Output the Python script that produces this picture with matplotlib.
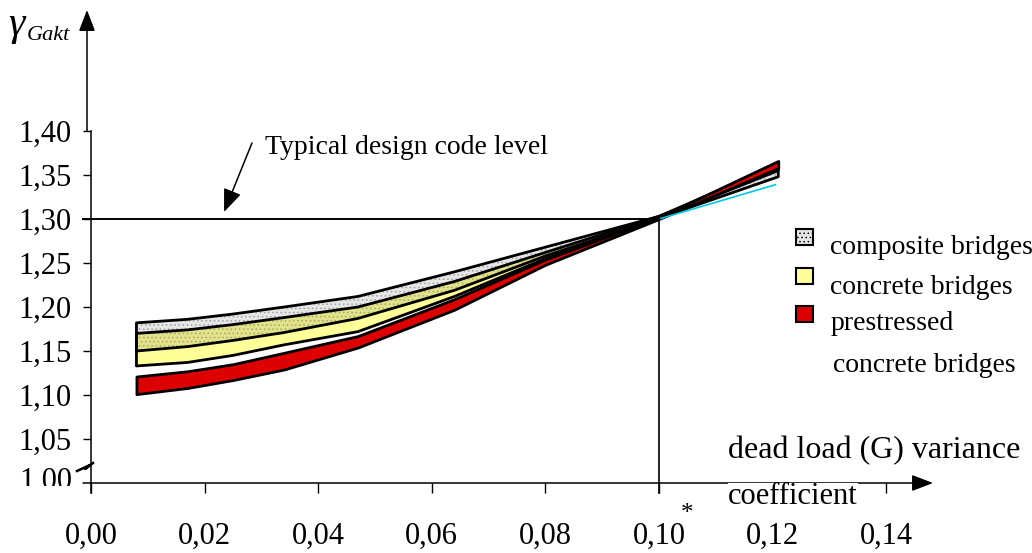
import matplotlib
matplotlib.use('Agg')
import matplotlib.pyplot as plt
import numpy as np
from matplotlib.patches import Rectangle
from matplotlib.transforms import Bbox

plt.rcParams['font.family'] = ['Liberation Serif', 'DejaVu Serif']
plt.rcParams['hatch.linewidth'] = 0.6

# ---------------- data ----------------
x_vals = [0.008, 0.017, 0.025, 0.034, 0.047, 0.064, 0.080, 0.100, 0.121]
composite_top = [1.182, 1.186, 1.192, 1.200, 1.212, 1.240, 1.268, 1.303, 1.357]
composite_bot = [1.150, 1.155, 1.162, 1.171, 1.187, 1.219, 1.258, 1.301, 1.348]
concrete_top = [1.170, 1.174, 1.180, 1.188, 1.200, 1.229, 1.262, 1.303, 1.362]
concrete_bot = [1.133, 1.137, 1.145, 1.157, 1.172, 1.212, 1.255, 1.301, 1.355]
prestressed_top = [1.121, 1.127, 1.135, 1.148, 1.167, 1.209, 1.254, 1.302, 1.366]
prestressed_bot = [1.101, 1.108, 1.117, 1.129, 1.154, 1.197, 1.248, 1.300, 1.358]
cyan_x = [0.100, 0.1205]
cyan_y = [1.300, 1.339]

x_ticks = [0.00, 0.02, 0.04, 0.06, 0.08, 0.10, 0.12, 0.14]
x_tick_labels = ['0,00', '0,02', '0,04', '0,06', '0,08', '0,10', '0,12', '0,14']
y_ticks = [1.05, 1.10, 1.15, 1.20, 1.25, 1.30, 1.35, 1.40]
y_tick_labels = ['1,05', '1,10', '1,15', '1,20', '1,25', '1,30', '1,35', '1,40']
legend_labels = ['composite bridges', 'concrete bridges', 'prestressed', 'concrete bridges']
design_level = 1.30
design_cov = 0.10

# ---------------- layout ----------------
W, H = 1032, 553
fig = plt.figure(figsize=(W / 100, H / 100), dpi=100)
X0, Y0 = 91, 483          # pixel position of the origin (0, 1.00)
SX, SY = 5680.0, 880.0    # pixels per data unit
ax = fig.add_axes([X0 / W, (H - Y0) / H, (W - X0) / W, Y0 / H])
ax.set_xlim(0, (W - X0) / SX)
ax.set_ylim(1.0, 1.0 + Y0 / SY)
for s in ax.spines.values():
    s.set_visible(False)


def dx(px):
    return (px - X0) / SX


def dy(py):
    return 1.0 + (Y0 - py) / SY


def fx(px):
    return px / W


def fy(py):
    return 1 - py / H


x = np.array(x_vals)
ctop, cbot = np.array(composite_top), np.array(composite_bot)
ktop, kbot = np.array(concrete_top), np.array(concrete_bot)
ptop, pbot = np.array(prestressed_top), np.array(prestressed_bot)

# bands
ax.fill_between(x, cbot, ctop, facecolor='#e6e6e6', edgecolor='#a0a0a0',
                hatch='....', linewidth=0, zorder=2)
ax.fill_between(x, kbot, ktop, facecolor='#ffff99', linewidth=0, zorder=3)
ov_lo = np.maximum(cbot, kbot)
ov_hi = np.minimum(ctop, ktop)
ax.fill_between(x, ov_lo, ov_hi, facecolor='#e2e28c', edgecolor='#a8a860',
                hatch='....', linewidth=0, zorder=4)
for lo, hi in [(cbot, ctop), (kbot, ktop)]:
    ax.fill_between(x, lo, hi, facecolor='none', edgecolor='black', linewidth=2.0, zorder=5)
ax.fill_between(x, pbot, ptop, facecolor='#dd0000', edgecolor='black', linewidth=2.0, zorder=6)
ax.plot(cyan_x, cyan_y, color='#00c8e8', lw=1.2, zorder=7)

# design level lines
ax.plot([dx(83), design_cov], [design_level, design_level], color='black', lw=1.4, zorder=8, clip_on=False)
ax.plot([design_cov, design_cov], [design_level, dy(493)], color='black', lw=1.2, zorder=8, clip_on=False)

# axes lines
ax.plot([0, 0], [dy(493), 1.40], color='black', lw=1.1, clip_on=False)
ax.annotate('', xy=(dx(87), dy(10)), xytext=(dx(87), 1.40),
            arrowprops=dict(arrowstyle='-|>,head_length=0.65,head_width=0.25', mutation_scale=20,
                            color='black', lw=1.1, shrinkA=0, shrinkB=0), annotation_clip=False)
ax.annotate('', xy=(dx(933), 1.0), xytext=(dx(83), 1.0),
            arrowprops=dict(arrowstyle='-|>,head_length=0.65,head_width=0.25', mutation_scale=20,
                            color='black', lw=1.1, shrinkA=0, shrinkB=0), annotation_clip=False)

# ticks
ax.set_xticks(x_ticks)
ax.set_xticklabels(x_tick_labels)
ax.set_yticks(y_ticks)
ax.set_yticklabels(y_tick_labels)
ax.tick_params(axis='x', direction='out', length=7, width=1, pad=21, labelsize=22)
ax.tick_params(axis='y', direction='out', length=5.8, width=1, pad=8, labelsize=22)

# clipped 1,00 label and break mark
t = ax.text(dx(72), dy(481), '1,00', ha='right', va='center', fontsize=22, clip_on=True)
t.set_clip_box(Bbox([[0, H - 486], [X0, H]]))
ax.plot([dx(77), dx(90), dx(85), dx(93)], [dy(471), dy(465), dy(469), dy(463)],
        color='black', lw=1.8, clip_on=False)

# asterisk
ax.text(dx(687), dy(514), '*', ha='center', va='center', fontsize=18)

# axis titles
fig.text(fx(8), fy(25), 'γ', fontsize=30, style='italic', ha='left', va='center')
fig.text(fx(27), fy(35), 'Gakt', fontsize=16, style='italic', ha='left', va='center')
ax.text(dx(728), dy(451), 'dead load (G) variance', fontsize=23, ha='left', va='center', zorder=10)
ax.text(dx(728), dy(497), 'coefficient', fontsize=22, ha='left', va='center', zorder=10,
        bbox=dict(facecolor='white', edgecolor='none', pad=0))

# annotation
ax.text(dx(265), dy(148), 'Typical design code level', fontsize=20, ha='left', va='center')
ax.annotate('', xy=(dx(224), dy(212)), xytext=(dx(252), dy(143)),
            arrowprops=dict(arrowstyle='-|>,head_length=0.7,head_width=0.28', mutation_scale=20,
                            color='black', lw=1.1, shrinkA=0, shrinkB=0), annotation_clip=False)

# legend (manual)
sq = [(796, 229, '#e6e6e6', True), (796, 268, '#ffff99', False), (796, 306, '#dd0000', False)]
for (px, py, col, hatched) in sq:
    r = Rectangle((fx(px), fy(py + 16)), 17 / W, 16 / H, transform=fig.transFigure,
                  facecolor=col, edgecolor='black', linewidth=1.5,
                  hatch='....' if hatched else None)
    fig.patches.append(r)
leg_pos = [(830, 248), (830, 288), (831, 323), (833, 366)]
for lab, (px, py) in zip(legend_labels, leg_pos):
    fig.text(fx(px), fy(py), lab, fontsize=20, ha='left', va='center')

fig.savefig('out.png', dpi=100)
